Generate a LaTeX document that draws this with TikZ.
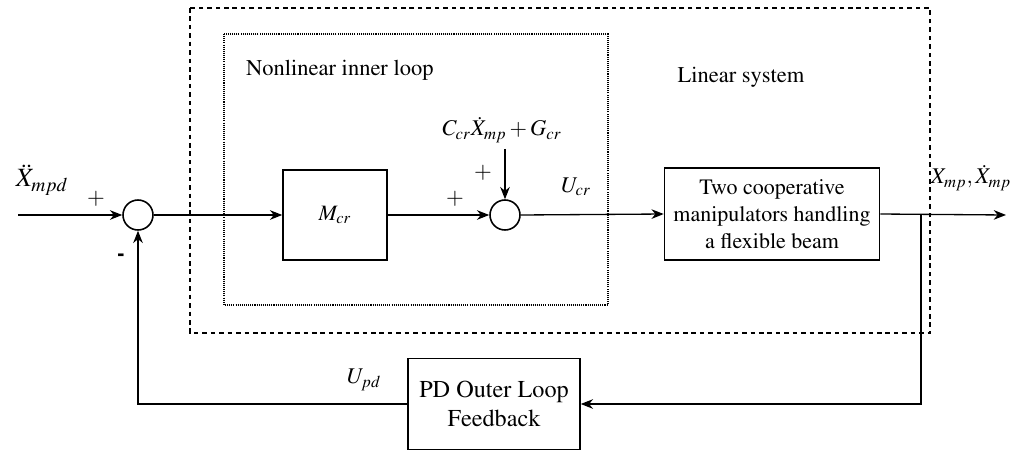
\documentclass[tikz,border=0pt]{standalone}
\usepackage[T1]{fontenc}
\usepackage{mathptmx}
\usepackage{tikz}
\usetikzlibrary{arrows.meta,positioning,calc}

\begin{document}
\begin{tikzpicture}[
  x=0.02cm,
  y=-0.02cm,
  >={Stealth[length=7pt,width=5.5pt]},
  line/.style={draw=black, line width=0.75pt},
  block/.style={draw=black, line width=0.9pt, align=center, inner sep=2pt,
    font=\fontsize{12.5}{15.5}\selectfont},
  sumnode/.style={draw=black, line width=0.9pt, circle, minimum size=0.6cm, inner sep=0pt},
  outerbox/.style={draw=black, line width=1pt, dash pattern=on 2.6pt off 2.2pt},
  innerbox/.style={draw=black, line width=0.7pt, dash pattern=on 0.6pt off 0.6pt},
  lab/.style={font=\fontsize{12.8}{15}\selectfont},
  sgn/.style={font=\fontsize{13}{15}\selectfont}
]
\useasboundingbox (0,0) rectangle (1019,450);

% Subsystem frames.
\draw[outerbox] (190,8) rectangle (930,333);
\draw[innerbox] (224,34) rectangle (608,305);
\node[lab, anchor=west] (innertitle) at (240,70) {Nonlinear inner loop};
\node[lab] (outertitle) at (741,77) {Linear system};

% Forward path: summing points and blocks on y=215.
\node[sumnode] (s1) at (138,215) {};
\node[block, minimum width=2.08cm, minimum height=1.8cm] (mcr) at (335,215) {$M_{cr}$};
\node[sumnode] (s2) at (505,215) {};
\node[block, minimum width=4.3cm, minimum height=1.84cm] (plant) at (772,214)
  {Two cooperative\\manipulators handling\\a flexible beam};
\node[block, minimum width=3.44cm, minimum height=1.82cm,
  font=\fontsize{13.8}{16.5}\selectfont] (pd) at (494,404)
  {PD Outer Loop\\Feedback};
\node[lab] (dist) at (502,130) {$C_{cr}\dot{X}_{mp}+G_{cr}$};

% Free ends and branch point.
\coordinate (in) at (18,215);
\coordinate (out) at (1006,215);
\coordinate (br) at (921,215);

% Connectors.
\draw[line, ->] (in) -- (s1.west);
\draw[line, ->] (s1.east) -- (mcr.west);
\draw[line, ->] (mcr.east) -- (s2.west);
\draw[line, ->] (dist.south -| s2.north) -- (s2.north);
\draw[line, ->] (s2.east) -- (plant.west);
\draw[line, ->] (plant.east) -- (out);
\draw[line, ->] (br) |- (pd.east);
\draw[line, ->] (pd.west) -| (s1.south);

% Signal names and signs.
\node[lab, font=\fontsize{15}{18}\selectfont] (xref) at (42,180) {$\ddot{X}_{mpd}$};
\node[sgn] (p1) at (96,199) {$+$};
\node[sgn] (m1) at (121,257) {\textbf{-}};
\node[sgn] (p2) at (455,199) {$+$};
\node[sgn] (p3) at (483,173) {$+$};
\node[lab] (ucr) at (576,187) {$U_{cr}$};
\node[lab] (xout) at (971,178) {$X_{mp},\dot{X}_{mp}$};
\node[lab] (upd) at (364,380) {$U_{pd}$};
\end{tikzpicture}
\end{document}
